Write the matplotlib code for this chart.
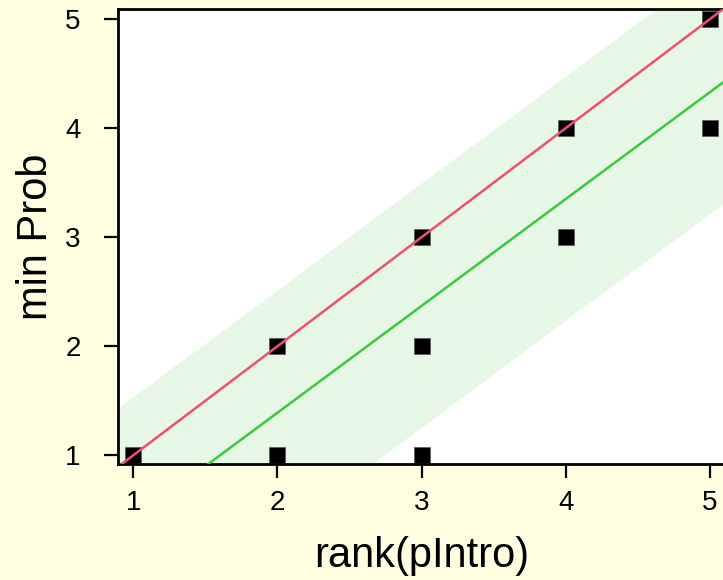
import numpy as np
import matplotlib
matplotlib.use("Agg")
import matplotlib.pyplot as plt

plt.rcParams['font.family'] = ['Liberation Sans', 'DejaVu Sans']

# data points (rank(pIntro), min Prob)
rank_pintro = [1, 2, 2, 3, 3, 3, 4, 4, 5, 5]
min_prob = [1, 2, 1, 3, 2, 1, 4, 3, 5, 4]

# reference line y = x (red) and fitted line (green) with band
ref_slope, ref_intercept = 1.0, 0.0
fit_slope, fit_intercept = 0.98, -0.57
band_halfwidth = 1.12

x_ticks = [1, 2, 3, 4, 5]
y_ticks = [1, 2, 3, 4, 5]
xlim = (0.896, 5.1)
ylim = (0.92, 5.09)

fig = plt.figure(figsize=(7.23, 5.80), dpi=100)
fig.patch.set_facecolor('#FFFEE0')
ax = fig.add_axes([118.3 / 723, 116 / 580, 606 / 723, (464 - 9.3) / 580])
ax.set_facecolor('white')

xs = np.array(xlim)
fit = fit_slope * xs + fit_intercept
ax.fill_between(xs, fit - band_halfwidth, fit + band_halfwidth,
                color='#E6F7E6', linewidth=0, zorder=1)

ax.scatter(rank_pintro, min_prob, marker='s', s=125, color='black',
           edgecolors='#555555', linewidths=0.5, zorder=2)

ax.plot(xs, ref_slope * xs + ref_intercept, color='#F0506E', lw=1.8, zorder=3)
ax.plot(xs, fit, color='#3CC83C', lw=1.8, zorder=3)

ax.set_xlim(*xlim)
ax.set_ylim(*ylim)
ax.set_xticks(x_ticks)
ax.set_yticks(y_ticks)
ax.set_xticklabels([str(t) for t in x_ticks])
ax.set_yticklabels([str(t) for t in y_ticks])

for s in ax.spines.values():
    s.set_linewidth(2.0)
ax.tick_params(axis='both', direction='out', length=10, width=1.6,
               labelsize=20, colors='black')
ax.tick_params(axis='x', pad=9)
ax.tick_params(axis='y', pad=17)

ax.set_xlabel('rank(pIntro)', fontsize=30, labelpad=14)
ax.set_ylabel('min Prob', fontsize=30, labelpad=7)

fig.savefig('out.png', dpi=100, facecolor=fig.get_facecolor())
